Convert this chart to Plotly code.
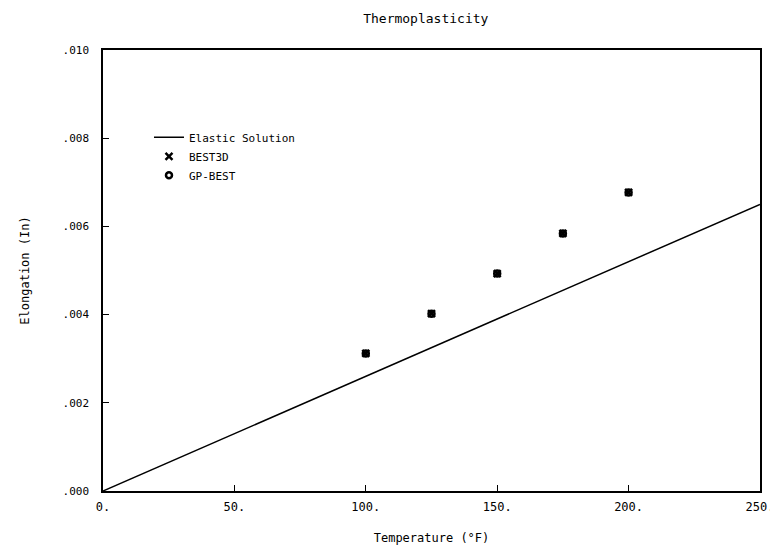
import plotly.graph_objects as go

# Data
elastic_temp = [0, 250]
elastic_elong = [0.0, 0.0065]

best3d_temp = [100, 125, 150, 175, 200]
best3d_elong = [0.00312, 0.00402, 0.00493, 0.00584, 0.00677]

gpbest_temp = [100, 125, 150, 175, 200]
gpbest_elong = [0.00312, 0.00402, 0.00493, 0.00584, 0.00677]

x_ticks = [0, 50, 100, 150, 200, 250]
x_tick_labels = ["0.", "50.", "100.", "150.", "200.", "250."]
y_ticks = [0.0, 0.002, 0.004, 0.006, 0.008, 0.010]
y_tick_labels = [".000", ".002", ".004", ".006", ".008", ".010"]

FONT = "DejaVu Sans Mono"

fig = go.Figure()
fig.add_trace(go.Scatter(
    x=elastic_temp, y=elastic_elong, mode="lines", name="Elastic Solution",
    line=dict(color="black", width=1.5)))
fig.add_trace(go.Scatter(
    x=best3d_temp, y=best3d_elong, mode="markers", name="BEST3D",
    marker=dict(symbol="x-thin", size=7, color="black",
                line=dict(color="black", width=2.5))))
fig.add_trace(go.Scatter(
    x=gpbest_temp, y=gpbest_elong, mode="markers", name="GP-BEST",
    marker=dict(symbol="circle-open", size=6, color="black",
                line=dict(color="black", width=2.5))))

fig.update_layout(
    width=778, height=547,
    margin=dict(l=95, r=20, t=42, b=64),
    paper_bgcolor="white", plot_bgcolor="white",
    font=dict(family=FONT, size=12, color="black"),
    title=dict(text="Thermoplasticity", x=0.537, xanchor="center",
               yref="container", y=1, yanchor="top",
               pad=dict(t=6, b=0),
               font=dict(family=FONT, size=13)),
    showlegend=True,
    legend=dict(x=0.07, y=0.835, xanchor="left", yanchor="top",
                bgcolor="rgba(0,0,0,0)", borderwidth=0,
                font=dict(family=FONT, size=11), itemwidth=30,
                tracegroupgap=0),
    xaxis=dict(range=[0, 250], tickmode="array", tickvals=x_ticks,
               ticktext=x_tick_labels, ticks="inside", ticklen=6,
               tickcolor="black", showgrid=False, zeroline=False,
               showline=True, linecolor="black", linewidth=1.5, mirror=True,
               ticklabelstandoff=4,
               title=dict(text="Temperature (°F)", standoff=20,
                          font=dict(family=FONT, size=12)),
               tickfont=dict(family=FONT, size=12)),
    yaxis=dict(range=[0, 0.010], tickmode="array", tickvals=y_ticks,
               ticktext=y_tick_labels, ticks="inside", ticklen=6,
               tickcolor="black", showgrid=False, zeroline=False,
               showline=True, linecolor="black", linewidth=1.5, mirror=True,
               ticklabelstandoff=10,
               title=dict(text="Elongation (In)", standoff=30,
                          font=dict(family=FONT, size=12)),
               tickfont=dict(family=FONT, size=11)),
)

fig.write_html("out.html")
